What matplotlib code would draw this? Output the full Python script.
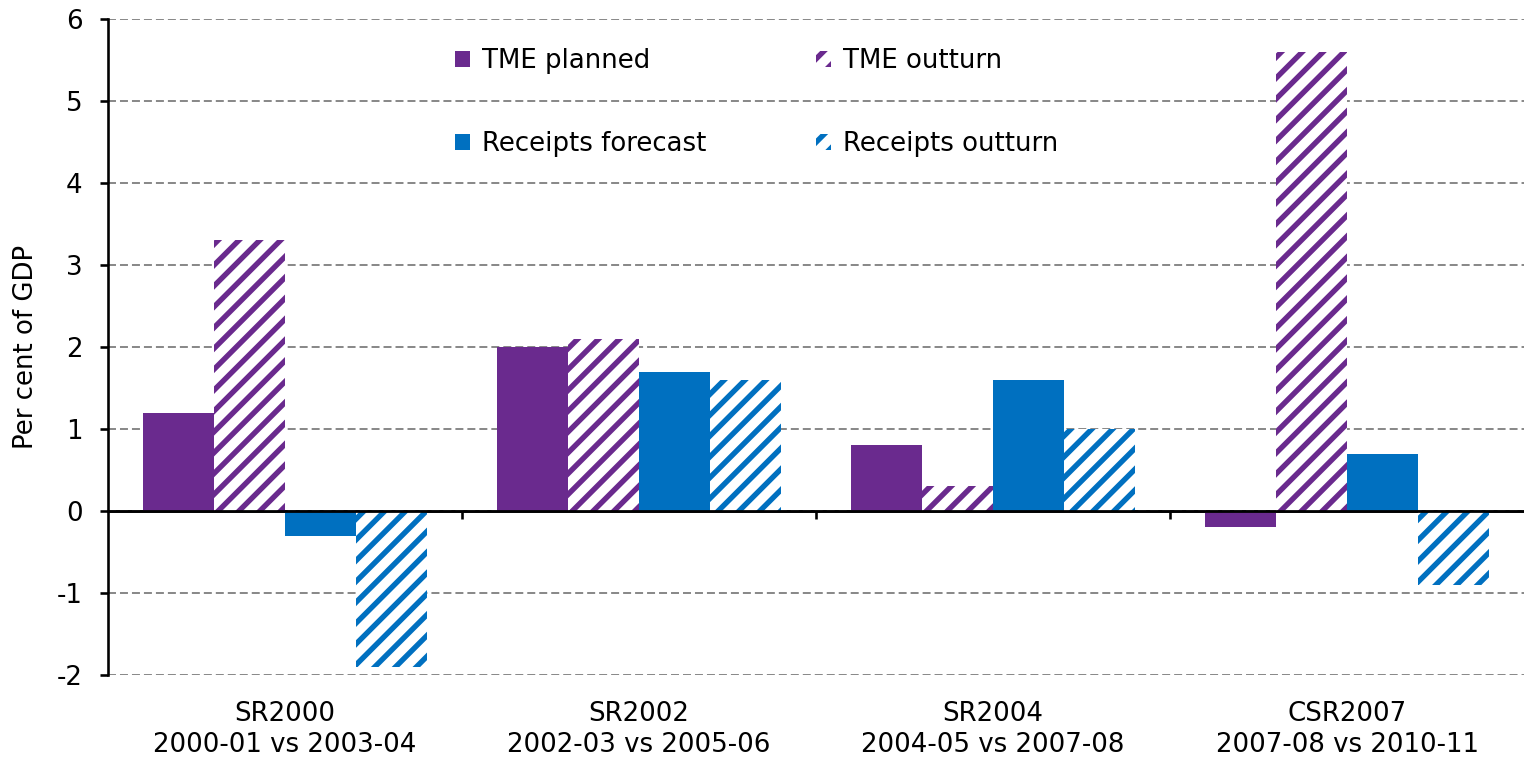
import matplotlib
matplotlib.use("Agg")
import matplotlib.pyplot as plt
import numpy as np

categories = ["SR2000\n2000-01 vs 2003-04", "SR2002\n2002-03 vs 2005-06",
              "SR2004\n2004-05 vs 2007-08", "CSR2007\n2007-08 vs 2010-11"]
tme_planned = [1.2, 2.0, 0.8, -0.2]
tme_outturn = [3.3, 2.1, 0.3, 5.6]
receipts_forecast = [-0.3, 1.7, 1.6, 0.7]
receipts_outturn = [-1.9, 1.6, 1.0, -0.9]
series_names = ["TME planned", "TME outturn", "Receipts forecast", "Receipts outturn"]

purple = "#6A2A8E"
blue = "#0070C0"

DPI = 125
plt.rcParams['font.family'] = ['DejaVu Sans']
plt.rcParams['axes.unicode_minus'] = False
plt.rcParams['hatch.linewidth'] = 3.1
FS = 15.0

fig = plt.figure(figsize=(1524 / DPI, 761 / DPI), dpi=DPI)
ax = fig.add_axes([108/1524, 1-675/761, 1-108/1524, (675-19)/761])

x = np.arange(len(categories))
w = 0.2
series = [tme_planned, tme_outturn, receipts_forecast, receipts_outturn]
colors = [purple, purple, blue, blue]
hatched = [False, True, False, True]
handles = []
for i, (vals, c, h, name) in enumerate(zip(series, colors, hatched, series_names)):
    off = (i - 1.5) * w
    if h:
        b = ax.bar(x + off, vals, w, facecolor="white", edgecolor=c, hatch="//",
                   linewidth=0, label=name, zorder=3)
    else:
        b = ax.bar(x + off, vals, w, color=c, linewidth=0, label=name, zorder=3)
    handles.append(b)

ax.axhline(0, color="black", linewidth=1.6, zorder=4)

ax.set_xlim(-0.5, len(categories) - 0.5)
ax.set_ylim(-2, 6)
ax.set_yticks(range(-2, 7))
ax.yaxis.grid(True, color="#8a8a8a", linestyle=(0, (4, 2)), linewidth=1.15, zorder=0)
ax.set_axisbelow(True)
for s in ["top", "right", "bottom"]:
    ax.spines[s].set_visible(False)
ax.spines["left"].set_linewidth(1.5)
ax.tick_params(axis="y", length=4.6, width=1.5, labelsize=FS, pad=10)
ax.set_xticks(x)
ax.set_xticklabels(categories, fontsize=FS, linespacing=1.25)
ax.tick_params(axis="x", length=0, pad=15)
ax.set_ylabel("Per cent of GDP", fontsize=FS)
ax.yaxis.set_label_coords((39 - 108) / 1416, 0.5)

sec = ax.secondary_xaxis(0.25)
sec.set_xticks(np.arange(0.5, len(categories) - 1, 1.0))
sec.set_xticklabels([])
sec.tick_params(axis="x", length=4.6, width=1.5, direction="out")
sec.spines["bottom"].set_linewidth(1.5)

order = [0, 2, 1, 3]
leg = ax.legend(handles=[handles[k] for k in order], ncol=2, loc="upper left",
                bbox_to_anchor=((442 - 108) / 1416, 1 - (35 - 19) / 656),
                frameon=False, fontsize=FS, handlelength=0.58, handleheight=0.58,
                handletextpad=0.45, columnspacing=4.23, labelspacing=2.2, borderpad=0)

fig.savefig("out.png", dpi=DPI)
